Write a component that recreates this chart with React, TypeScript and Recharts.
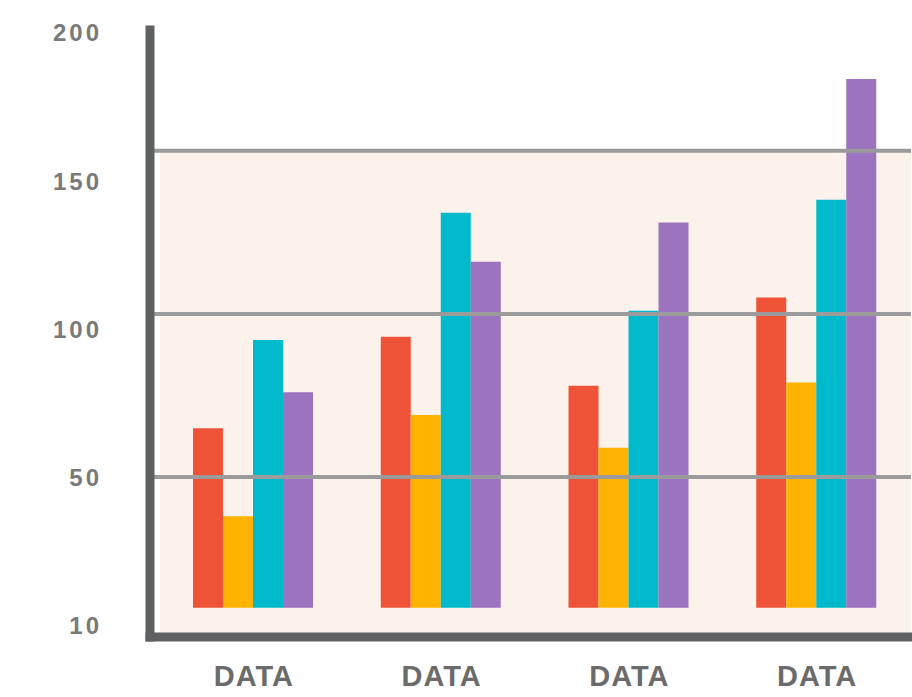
import { BarChart, Bar, XAxis, YAxis, ReferenceArea, ReferenceLine } from "recharts";

const categories = ["DATA", "DATA", "DATA", "DATA"];
const redValues = [65, 93, 78, 105];
const orangeValues = [38, 69, 59, 79];
const tealValues = [92, 131, 101, 135];
const purpleValues = [76, 116, 128, 172];

// bars start from this value instead of zero
const BASE = 10;

// left axis labels, placed at evenly spaced positions
const yTicks = [0, 50, 100, 150, 200];
const yTickLabels = ["10", "50", "100", "150", "200"];

const gridValues = [50, 100, 150];

const series = [
  { key: "red", color: "#EE5338" },
  { key: "orange", color: "#FDB300" },
  { key: "teal", color: "#00B9CA" },
  { key: "purple", color: "#9B73BE" },
];

const data = categories.map((name, i) => ({
  name,
  red: redValues[i],
  orange: orangeValues[i],
  teal: tealValues[i],
  purple: purpleValues[i],
}));

const AXIS = "#5f6061";
const TEXT = "#6b6b6b";

export default function App() {
  return (
    <div style={{ position: "absolute", left: 0, top: 0, background: "#fff" }}>
      <BarChart
        width={912}
        height={697}
        data={data}
        margin={{ top: 30, right: 1, bottom: 0, left: 0 }}
        barCategoryGap={33}
        barGap={0}
        style={{ fontFamily: "'Liberation Sans', Arial, sans-serif" }}
      >
        <XAxis
          dataKey="name"
          height={60}
          padding={{ left: 10, right: 0 }}
          tickSize={0}
          tickMargin={28}
          axisLine={{ stroke: AXIS, strokeWidth: 9, strokeLinecap: "square" }}
          tick={{ fill: TEXT, fontSize: 29, fontWeight: 700, letterSpacing: 1 }}
        />
        <YAxis
          yAxisId="lbl"
          width={150}
          type="number"
          domain={[-4, 201]}
          allowDataOverflow
          ticks={yTicks}
          interval={0}
          tickSize={0}
          tickMargin={48}
          tickFormatter={(v: number) => yTickLabels[yTicks.indexOf(v)]}
          axisLine={{ stroke: AXIS, strokeWidth: 9, strokeLinecap: "square" }}
          tick={{ fill: "#7a7a7a", fontSize: 24, fontWeight: 700, letterSpacing: 3 }}
        />
        <YAxis yAxisId="val" hide type="number" domain={[1, 187]} allowDataOverflow />
        <ReferenceArea
          yAxisId="val"
          y1={1}
          y2={150}
          fill="#fcf2ec"
          fillOpacity={1}
          stroke="none"
        />
        {gridValues.map((v) => (
          <ReferenceLine key={v} yAxisId="val" y={v} stroke="#9b9b9b" strokeWidth={4} />
        ))}
        {series.map((s) => (
          <Bar
            key={s.key}
            yAxisId="val"
            dataKey={(d: any) => [BASE, d[s.key]]}
            fill={s.color}
            isAnimationActive={false}
          />
        ))}
      </BarChart>
    </div>
  );
}
